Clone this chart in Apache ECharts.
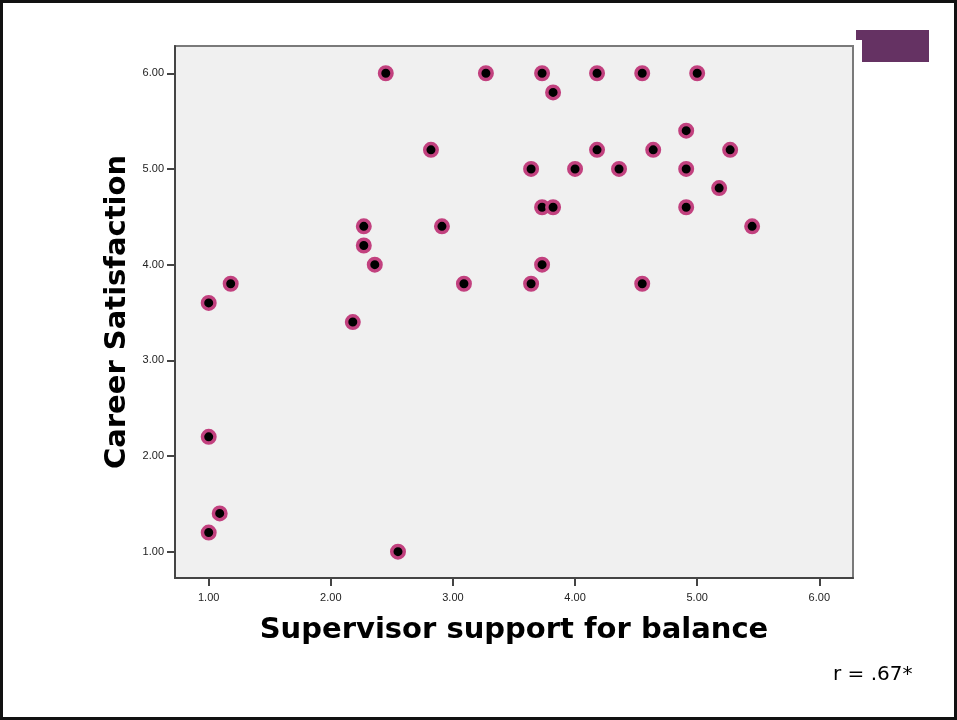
<!DOCTYPE html>
<html>
<head>
<meta charset="utf-8">
<script src="https://cdn.jsdelivr.net/npm/echarts@6/dist/echarts.min.js"></script>
<style>html,body{margin:0;padding:0;background:#fff;}#c{width:957px;height:720px;}</style>
</head>
<body>
<div id="c"></div>
<script>
const supervisorSupport = [1.00, 1.18, 1.00, 1.09, 1.00, 2.45, 3.27, 3.73, 4.18, 4.55, 5.00, 3.82, 2.82, 4.18, 4.64, 5.27, 4.91, 3.64, 4.00, 4.36, 4.91, 5.18, 2.27, 2.91, 3.73, 3.82, 4.91, 5.45, 2.27, 2.36, 3.73, 3.09, 3.64, 4.55, 2.18, 2.55];
const careerSatisfaction = [3.6, 3.8, 2.2, 1.4, 1.2, 6.0, 6.0, 6.0, 6.0, 6.0, 6.0, 5.8, 5.2, 5.2, 5.2, 5.2, 5.4, 5.0, 5.0, 5.0, 5.0, 4.8, 4.4, 4.4, 4.6, 4.6, 4.6, 4.4, 4.2, 4.0, 4.0, 3.8, 3.8, 3.8, 3.4, 1.0];
const xTicks = [1, 2, 3, 4, 5, 6];
const yTicks = [1, 2, 3, 4, 5, 6];
const xTitle = 'Supervisor support for balance';
const yTitle = 'Career Satisfaction';
const note = 'r = .67*';

const points = supervisorSupport.map((x, i) => [x, careerSatisfaction[i]]);
const chart = echarts.init(document.getElementById('c'), null, {renderer: 'canvas'});
const fmt = v => Number(v).toFixed(2);
const titleFont = 'DejaVu Sans, Verdana, sans-serif';
chart.setOption({
  backgroundColor: '#ffffff',
  animation: false,
  grid: {left: 175, top: 46, right: 104, bottom: 142, show: true, backgroundColor: '#f0f0f0', borderColor: '#7a7a7a', borderWidth: 2},
  xAxis: {
    type: 'value', min: 0.724, max: 6.276,
    splitLine: {show: false},
    axisLine: {show: true, onZero: false, lineStyle: {color: '#444', width: 2}},
    axisTick: {show: true, length: 8, customValues: xTicks, lineStyle: {color: '#444', width: 2}},
    axisLabel: {customValues: xTicks, formatter: fmt, margin: 14, color: '#222', fontSize: 11, fontFamily: 'Liberation Sans, Arial, sans-serif'},
    name: xTitle, nameLocation: 'middle', nameGap: 38,
    nameTextStyle: {fontSize: 29, fontWeight: 'bold', color: '#000', fontFamily: titleFont}
  },
  yAxis: {
    type: 'value', min: 0.725, max: 6.285,
    splitLine: {show: false},
    axisLine: {show: true, onZero: false, lineStyle: {color: '#444', width: 2}},
    axisTick: {show: true, length: 8, customValues: yTicks, lineStyle: {color: '#444', width: 2}},
    axisLabel: {customValues: yTicks, formatter: fmt, margin: 11, color: '#222', fontSize: 11, fontFamily: 'Liberation Sans, Arial, sans-serif'},
    name: yTitle, nameLocation: 'middle', nameGap: 42, nameRotate: 90,
    nameTextStyle: {fontSize: 29, fontWeight: 'bold', color: '#000', fontFamily: titleFont}
  },
  series: [{
    type: 'scatter',
    data: points,
    symbol: 'circle',
    symbolSize: 12.5,
    itemStyle: {color: '#000', borderColor: '#c2417f', borderWidth: 3.5, opacity: 1}
  }],
  graphic: [
    {type: 'rect', shape: {x: 1.5, y: 1.5, width: 954, height: 717}, style: {fill: null, stroke: '#111', lineWidth: 3}, z: 100},
    {type: 'rect', shape: {x: 856, y: 30, width: 73, height: 10}, style: {fill: '#653263'}, z: 100},
    {type: 'rect', shape: {x: 862, y: 30, width: 67, height: 32}, style: {fill: '#653263'}, z: 100},
    {type: 'text', left: 833, top: 665, style: {text: note, fontSize: 20, fill: '#000', fontFamily: titleFont}, z: 100}
  ]
});
</script>
</body>
</html>
